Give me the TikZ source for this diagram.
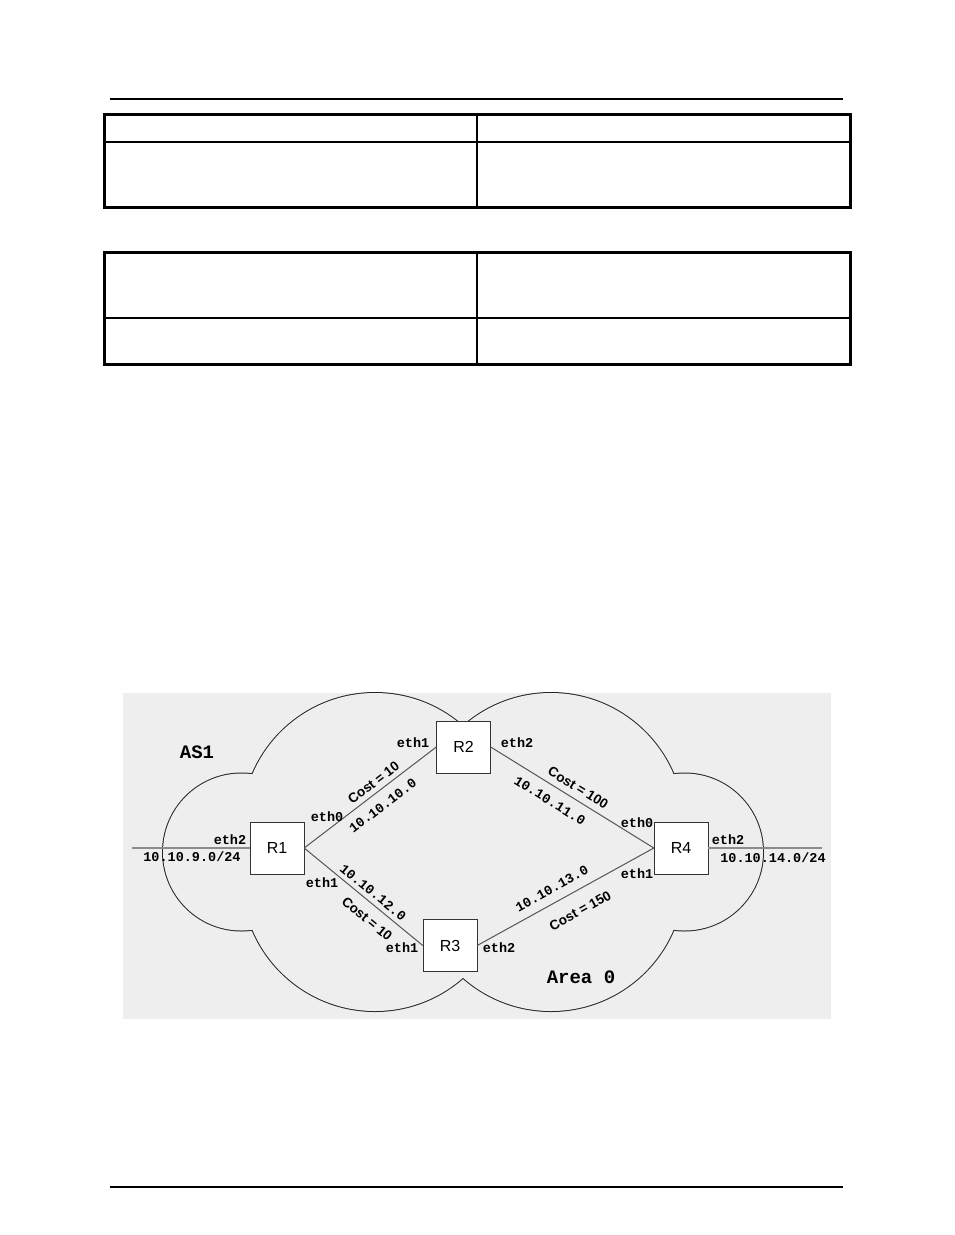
\documentclass[tikz,border=0pt]{standalone}
\usepackage{fontspec}
\setmainfont{Liberation Sans}
\newfontfamily\courier{Liberation Mono}
\usetikzlibrary{positioning}
\definecolor{areagray}{RGB}{238,238,238}
\definecolor{linkgray}{RGB}{85,85,85}
\definecolor{wiregray}{RGB}{140,140,140}

\begin{document}
\begin{tikzpicture}[
    x=1pt, y=-1pt,
    router/.style={draw=black!80, fill=white, minimum width=54pt, minimum height=52pt, inner sep=0pt, font=\fontsize{16}{18}\selectfont},
    port/.style={font=\courier\bfseries\fontsize{13.5}{15}\selectfont, inner sep=1pt},
    subnet/.style={font=\courier\bfseries\fontsize{13.5}{15}\selectfont, inner sep=1pt, sloped},
    cost/.style={font=\bfseries\fontsize{13.5}{15}\selectfont, inner sep=1pt, sloped},
    areatext/.style={font=\courier\bfseries\fontsize{19}{21}\selectfont},
    link/.style={draw=linkgray, line width=1pt},
    wire/.style={draw=wiregray, line width=2.5pt},
    lobe/.style={draw=black!85, line width=2pt},
    rulebox/.style={draw=black, line width=3pt},
    cellline/.style={draw=black, line width=1.2pt}
  ]
  \useasboundingbox (0,0) rectangle (954,1235);

  % page rules and the two empty tables
  \draw[line width=2pt] (110,99) -- (843,99);
  \draw[line width=1.5pt] (110,1187) -- (843,1187);
  \draw[rulebox] (104,114) rectangle (850,207);
  \draw[cellline] (104,142) -- (850,142) (477,114) -- (477,207);
  \draw[rulebox] (104,252) rectangle (850,364);
  \draw[cellline] (104,318) -- (850,318) (477,252) -- (477,364);

  % area and cloud
  \fill[areagray] (123,693) rectangle (831,1019);
  \foreach \cx/\cy/\rad in {375/826/133, 551/826/133, 375/878/133, 551/878/133, 241.5/852/78.5, 684.5/852/78.5}
    \draw[lobe] (\cx,\cy) circle[radius=\rad pt];
  \foreach \cx/\cy/\rad in {375/826/133, 551/826/133, 375/878/133, 551/878/133, 241.5/852/78.5, 684.5/852/78.5}
    \fill[areagray] (\cx,\cy) circle[radius=\rad pt];

  \node[areatext] (as) at (197,752) {AS1};
  \node[areatext] (area) at (581,977) {Area 0};

  \node[router] (r1) at (277,848) {R1};
  \node[router] (r2) at (463.5,747) {R2};
  \node[router] (r3) at (450,945.5) {R3};
  \node[router] (r4) at (681,848) {R4};

  \coordinate (wl) at (132,848);
  \coordinate (wr) at (822,848);
  \draw[wire] (wl) -- (r1);
  \draw[wire] (r4) -- (wr);

  \draw[link] (r1.east) -- node[cost, pos=0.57, above=3.4pt] (c12) {Cost = 10}
    node[subnet, pos=0.53, below=8pt] (n12) {10.10.10.0} (r2.west);
  \draw[link] (r1.east) -- node[subnet, pos=0.53, above=3.4pt] (n13) {10.10.12.0}
    node[cost, pos=0.61, below=8.6pt] (c13) {Cost = 10} (r3.west);
  \draw[link] (r2.east) -- node[cost, pos=0.5, above=5pt] (c24) {Cost = 100}
    node[subnet, pos=0.41, below=8.4pt] (n24) {10.10.11.0} (r4.west);
  \draw[link] (r3.east) -- node[subnet, pos=0.46, above=7.6pt] (n34) {10.10.13.0}
    node[cost, pos=0.53, below=13pt] (c34) {Cost = 150} (r4.west);

  \node[port] (r1p2) at (230,840) {eth2};
  \node[port] (n9) at (192,857) {10.10.9.0/24};
  \node[port] (r1p0) at (327,817) {eth0};
  \node[port] (r1p1) at (322,883) {eth1};
  \node[port] (r2p1) at (413,743) {eth1};
  \node[port] (r2p2) at (517,743) {eth2};
  \node[port] (r3p1) at (402,948) {eth1};
  \node[port] (r3p2) at (499,948) {eth2};
  \node[port] (r4p0) at (637,823) {eth0};
  \node[port] (r4p1) at (637,874) {eth1};
  \node[port] (r4p2) at (728,840) {eth2};
  \node[port] (n14) at (773,858) {10.10.14.0/24};
\end{tikzpicture}
\end{document}
